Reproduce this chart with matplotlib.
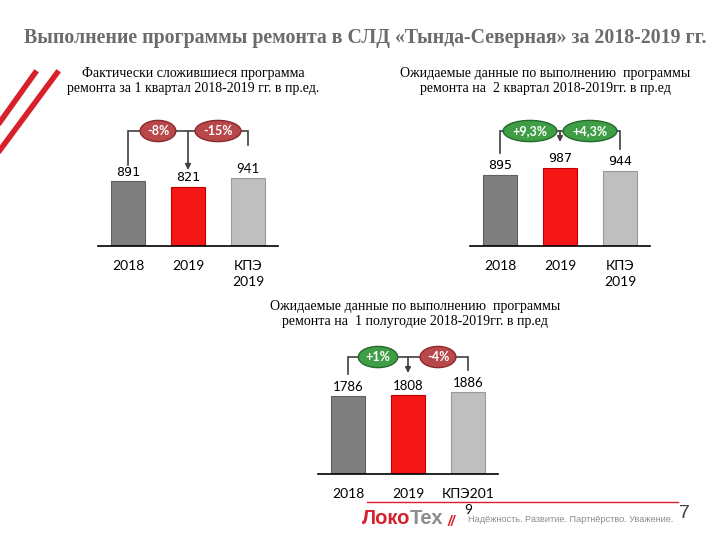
import numpy as np
import matplotlib.pyplot as plt

# Data
categories = ['2018', '2019', 'КПЭ\n2019']
categories_h1 = ['2018', '2019', 'КПЭ201\n9']
q1_values = [891, 821, 941]
q2_values = [895, 987, 944]
h1_values = [1786, 1808, 1886]
q1_changes = ['-8%', '-15%']
q2_changes = ['+9,3%', '+4,3%']
h1_changes = ['+1%', '-4%']

title = 'Выполнение программы ремонта в СЛД «Тында-Северная» за 2018-2019 гг.'
sub1 = 'Фактически сложившиеся программа\nремонта за 1 квартал 2018-2019 гг. в пр.ед.'
sub2 = 'Ожидаемые данные по выполнению  программы\nремонта на  2 квартал 2018-2019гг. в пр.ед'
sub3 = 'Ожидаемые данные по выполнению  программы\nремонта на  1 полугодие 2018-2019гг. в пр.ед'

bar_colors = ['#7f7f7f', '#f51616', '#bfbfbf']
edge_colors = ['#606060', '#c00000', '#9a9a9a']
W, H = 720, 540

fig = plt.figure(figsize=(7.2, 5.4), dpi=100)


def px_axes(x0, y0, x1, y1):
    return fig.add_axes([x0 / W, 1 - y1 / H, (x1 - x0) / W, (y1 - y0) / H])


def ftext(x, y, s, **kw):
    fig.text(x / W, 1 - y / H, s, **kw)


def draw_chart(ax, values, labels, changes, ytop, bracket, ends, mono):
    x = np.arange(len(values))
    ax.bar(x, values, width=0.57, color=bar_colors, edgecolor=edge_colors, linewidth=0.8)
    ax.set_xlim(-0.5, 2.5)
    ax.set_ylim(0, ytop)
    for s in ['top', 'right', 'left']:
        ax.spines[s].set_visible(False)
    ax.spines['bottom'].set_linewidth(1.2)
    ax.set_yticks([])
    ax.set_xticks(x)
    ax.set_xticklabels(labels, fontsize=10, fontfamily='Lato', linespacing=1.45)
    ax.tick_params(axis='x', length=0, pad=10)
    for i, v in enumerate(values):
        fam = 'DejaVu Sans Mono' if mono[i] else 'Lato'
        ax.annotate(str(v), (x[i], v), xytext=(0, 2), textcoords='offset points',
                    ha='center', va='bottom', fontsize=9.5, fontfamily=fam)
    # bracket
    lc = '#404040'
    ax.plot([0, 0, 2, 2], [ends[0], bracket, bracket, ends[1]], color=lc, lw=1.2,
            clip_on=False, solid_joinstyle='miter')
    ax.annotate('', xy=(1, ends[2]), xytext=(1, bracket),
                arrowprops=dict(arrowstyle='-|>', color=lc, lw=1.2,
                                mutation_scale=8, shrinkA=0, shrinkB=0),
                annotation_clip=False)
    for j, c in enumerate(changes):
        if c.startswith('-'):
            fc, ec = '#b8484a', '#8a2a2c'
        else:
            fc, ec = '#3f9e45', '#23692a'
        ax.text(0.5 + j, bracket, c, ha='center', va='center', color='white',
                fontsize=9, fontweight='bold', fontfamily='Lato', clip_on=False,
                bbox=dict(boxstyle='ellipse,pad=0.12', fc=fc, ec=ec, lw=1))


# chart 1: 1 quarter
ax1 = px_axes(98, 120, 278, 246)
draw_chart(ax1, q1_values, categories, q1_changes, 1740,
           1588, (1119, 1395, 1050), [True, True, False])
# chart 2: 2 quarter
ax2 = px_axes(470, 120, 650, 246)
draw_chart(ax2, q2_values, categories, q2_changes, 1589,
           1450, (1173, 1223, 1311), [True, True, True])
# chart 3: half year
ax3 = px_axes(318, 345, 498, 474)
draw_chart(ax3, h1_values, categories_h1, h1_changes, 2952,
           2677, (2288, 2380, 2311), [False, False, False])

# titles
ftext(365, 38, title, ha='center', va='center', fontsize=14.3, fontweight='bold',
      fontfamily='Liberation Serif', color='#6b6b6b')
ftext(193, 81, sub1, ha='center', va='center', fontsize=10, fontfamily='Liberation Serif',
      linespacing=1.2)
ftext(545, 81, sub2, ha='center', va='center', fontsize=10, fontfamily='Liberation Serif',
      linespacing=1.2)
ftext(415, 314, sub3, ha='center', va='center', fontsize=10, fontfamily='Liberation Serif',
      linespacing=1.2)

# decorative stripes top-left
fig.add_artist(plt.Line2D([35 / W, 0], [1 - 73 / H, 1 - 122 / H], color='#d8202a', lw=4))
fig.add_artist(plt.Line2D([57 / W, 0], [1 - 73 / H, 1 - 150 / H], color='#d8202a', lw=4))

# footer
fig.add_artist(plt.Line2D([367 / W, 678 / W], [1 - 502 / H, 1 - 502 / H], color='#d8202a', lw=1))
ftext(410, 518, 'Локо', ha='right', va='center', fontsize=14.5, fontweight='bold',
      fontfamily='Liberation Sans', color='#d8202a')
ftext(410, 518, 'Тех', ha='left', va='center', fontsize=14.5, fontweight='bold',
      fontfamily='Liberation Sans', color='#8c8c8c')
ftext(448, 522, '//', ha='left', va='center', fontsize=10, fontweight='bold',
      fontfamily='Liberation Sans', color='#d8202a', style='italic')
ftext(468, 519, 'Надёжность. Развитие. Партнёрство. Уважение.', ha='left', va='center',
      fontsize=6.6, fontfamily='Liberation Sans', color='#8c8c8c')
ftext(684, 513, '7', ha='center', va='center', fontsize=14, fontfamily='Liberation Sans',
      color='#404040')

fig.savefig('out.png', dpi=100)
